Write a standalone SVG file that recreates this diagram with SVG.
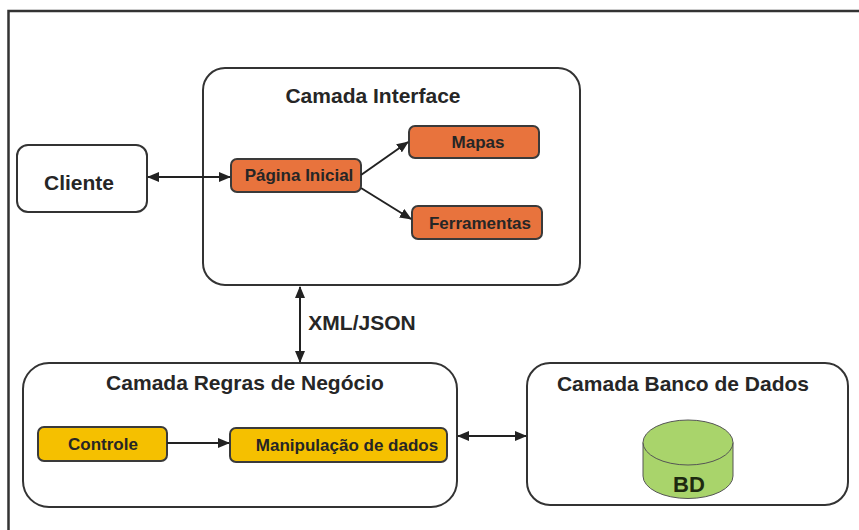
<svg xmlns="http://www.w3.org/2000/svg" width="859" height="530" viewBox="0 0 859 530">
  <defs>
    <marker id="ah" viewBox="0 0 12 10" refX="11" refY="5" markerWidth="12" markerHeight="10" markerUnits="userSpaceOnUse" orient="auto-start-reverse">
      <path d="M0,0 L12,5 L0,10 Z" fill="#222"/>
    </marker>
  </defs>
  <style>
    text { font-family: "Liberation Sans", Arial, sans-serif; font-weight: bold; fill: #262626; text-anchor: middle; }
    .layer { fill: #ffffff; stroke: #333; stroke-width: 2; }
    .orange { fill: #E8733D; stroke: #3a3a3a; stroke-width: 2; }
    .yellow { fill: #F5C000; stroke: #3a3a3a; stroke-width: 2; }
    .title { font-size: 21px; }
    .small { font-size: 17px; }
    .conn { stroke: #222; stroke-width: 2; fill: none; }
  </style>
  <rect width="859" height="530" fill="#ffffff"/>
  <g id="frame">
    <path d="M8.5,530 L8.5,11 L859,11" fill="none" stroke="#333" stroke-width="2.5"/>
  </g>
  <g id="cliente">
    <rect class="layer" x="17" y="145" width="130" height="67" rx="11"/>
    <text x="79" y="190" style="font-size:21px">Cliente</text>
  </g>
  <g id="camada-interface">
    <rect class="layer" x="203" y="68" width="377" height="217" rx="22"/>
    <text class="title" x="373" y="103">Camada Interface</text>
  </g>
  <g id="pagina-inicial">
    <rect class="orange" x="231" y="159" width="130" height="33" rx="6"/>
    <text class="small" x="299" y="181">Página Inicial</text>
  </g>
  <g id="mapas">
    <rect class="orange" x="409" y="126" width="130" height="32" rx="6"/>
    <text class="small" x="478" y="148">Mapas</text>
  </g>
  <g id="ferramentas">
    <rect class="orange" x="412" y="206" width="130" height="33" rx="6"/>
    <text class="small" x="480" y="229">Ferramentas</text>
  </g>
  <g id="camada-regras">
    <rect class="layer" x="23" y="363" width="434" height="144" rx="26"/>
    <text class="title" x="245" y="390">Camada Regras de Negócio</text>
  </g>
  <g id="controle">
    <rect class="yellow" x="38" y="427" width="129" height="34" rx="6"/>
    <text class="small" x="103" y="450">Controle</text>
  </g>
  <g id="manipulacao">
    <rect class="yellow" x="230" y="428" width="217" height="34" rx="6"/>
    <text class="small" x="347" y="451">Manipulação de dados</text>
  </g>
  <g id="camada-banco">
    <rect class="layer" x="527" y="363" width="321" height="142" rx="23"/>
    <text class="title" x="683" y="391">Camada Banco de Dados</text>
  </g>
  <g id="bd">
    <path d="M643,442.5 L643,476 A45,22.5 0 0 0 733,476 L733,442.5 Z" fill="#A9D46B" stroke="#555" stroke-width="1"/>
    <ellipse cx="688" cy="442.5" rx="45" ry="22.5" fill="#A9D46B" stroke="#555" stroke-width="1"/>
    <text x="689" y="492" style="font-size:22px;fill:#1e2a10">BD</text>
  </g>
  <g id="connectors">
    <line class="conn" x1="148" y1="177" x2="230" y2="177" marker-start="url(#ah)" marker-end="url(#ah)"/>
    <line class="conn" x1="361" y1="175" x2="408" y2="142" marker-end="url(#ah)"/>
    <line class="conn" x1="361" y1="188" x2="411" y2="219" marker-end="url(#ah)"/>
    <line class="conn" x1="300" y1="287" x2="300" y2="362" marker-start="url(#ah)" marker-end="url(#ah)"/>
    <text x="362" y="330" style="font-size:21px">XML/JSON</text>
    <line class="conn" x1="167" y1="443" x2="229" y2="443" marker-end="url(#ah)"/>
    <line class="conn" x1="458" y1="436" x2="526" y2="436" marker-start="url(#ah)" marker-end="url(#ah)"/>
  </g>
</svg>
